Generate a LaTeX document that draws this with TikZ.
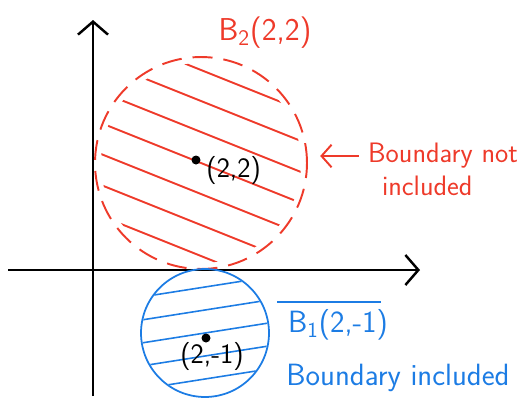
\documentclass[tikz,border=0pt]{standalone}
\usepackage{xcolor}
\usepackage{tikz}
\usetikzlibrary{positioning,arrows.meta,calc}
\definecolor{penred}{HTML}{EE3A2A}
\definecolor{penblue}{HTML}{1C7CE4}

\begin{document}
\begin{tikzpicture}[
  x=0.02cm, y=-0.02cm,
  >={Straight Barb[length=2.6mm,width=6mm]},
  axis/.style={->, line width=1.4pt},
  disc/.style={circle, inner sep=0pt},
  hatchred/.style={penred, line width=1.1pt, line cap=round},
  hatchblue/.style={penblue, line width=0.9pt, line cap=round},
  pt/.style={circle, fill, inner sep=0pt, minimum size=1.8mm},
  txt/.style={font=\sffamily\fontsize{16}{19}\selectfont, inner sep=1pt},
  redtxt/.style={txt, text=penred},
  bluetxt/.style={txt, text=penblue, font=\sffamily\fontsize{17.5}{20}\selectfont},
  pointer/.style={->, penred, line width=1.1pt, >={Straight Barb[length=2mm,width=4.5mm]}}
]
  \useasboundingbox (0,0) rectangle (528,406);

  % axes
  \coordinate (xl) at (8,270);
  \coordinate (xr) at (420,270);
  \coordinate (yb) at (93,396);
  \coordinate (yt) at (93,20);
  \draw[axis] (xl) -- (xr);
  \draw[axis] (yb) -- (yt);

  % open ball B_2(2,2)
  \node[disc, draw=penred, line width=1.1pt, dash pattern=on 0.4cm off 0.22cm,
        minimum size=4.24cm] (B2) at (201,163) {};
  \begin{scope}
    \clip (201,163) circle[radius=100];
    \foreach \k in {-5,...,5}
      \draw[hatchred] (81,{115+31*\k}) -- (321,{211+31*\k});
  \end{scope}

  % closed ball B_1(2,-1)
  \node[disc, draw=penblue, line width=1pt, minimum size=2.56cm] (B1) at (205,333) {};
  \begin{scope}
    \clip (205,333) circle[radius=63];
    \foreach \k in {-3,...,3}
      \draw[hatchblue] (135,{344+23*\k}) -- (275,{322+23*\k});
  \end{scope}

  % centres
  \node[pt] (c2) at (196,160) {};
  \node[txt, right=2pt of c2, yshift=-6pt] (c2lbl) {(2,2)};
  \node[pt] (c1) at (206,338) {};
  \node[txt] (c1lbl) at (212,356) {(2,-1)};

  % labels
  \node[redtxt, font=\sffamily\fontsize{18}{21}\selectfont] (B2lbl) at (265,33) {B\textsubscript{2}(2,2)};
  \node[redtxt, anchor=west] (note2a) at (366,156) {Boundary not};
  \node[redtxt, anchor=west] (note2b) at (380,186) {included};
  \draw[pointer] ([xshift=-4pt]note2a.west) -- ([xshift=7pt]B2.east |- note2a.west);

  \node[bluetxt] (B1lbl) at (338,325) {B\textsubscript{1}(2,-1)};
  \draw[penblue, line width=1pt] ([xshift=-5pt,yshift=3pt]B1lbl.north west)
        -- ([xshift=-5pt,yshift=3pt]B1lbl.north east);
  \node[bluetxt] (note1) at (398,378) {Boundary included};
\end{tikzpicture}
\end{document}
